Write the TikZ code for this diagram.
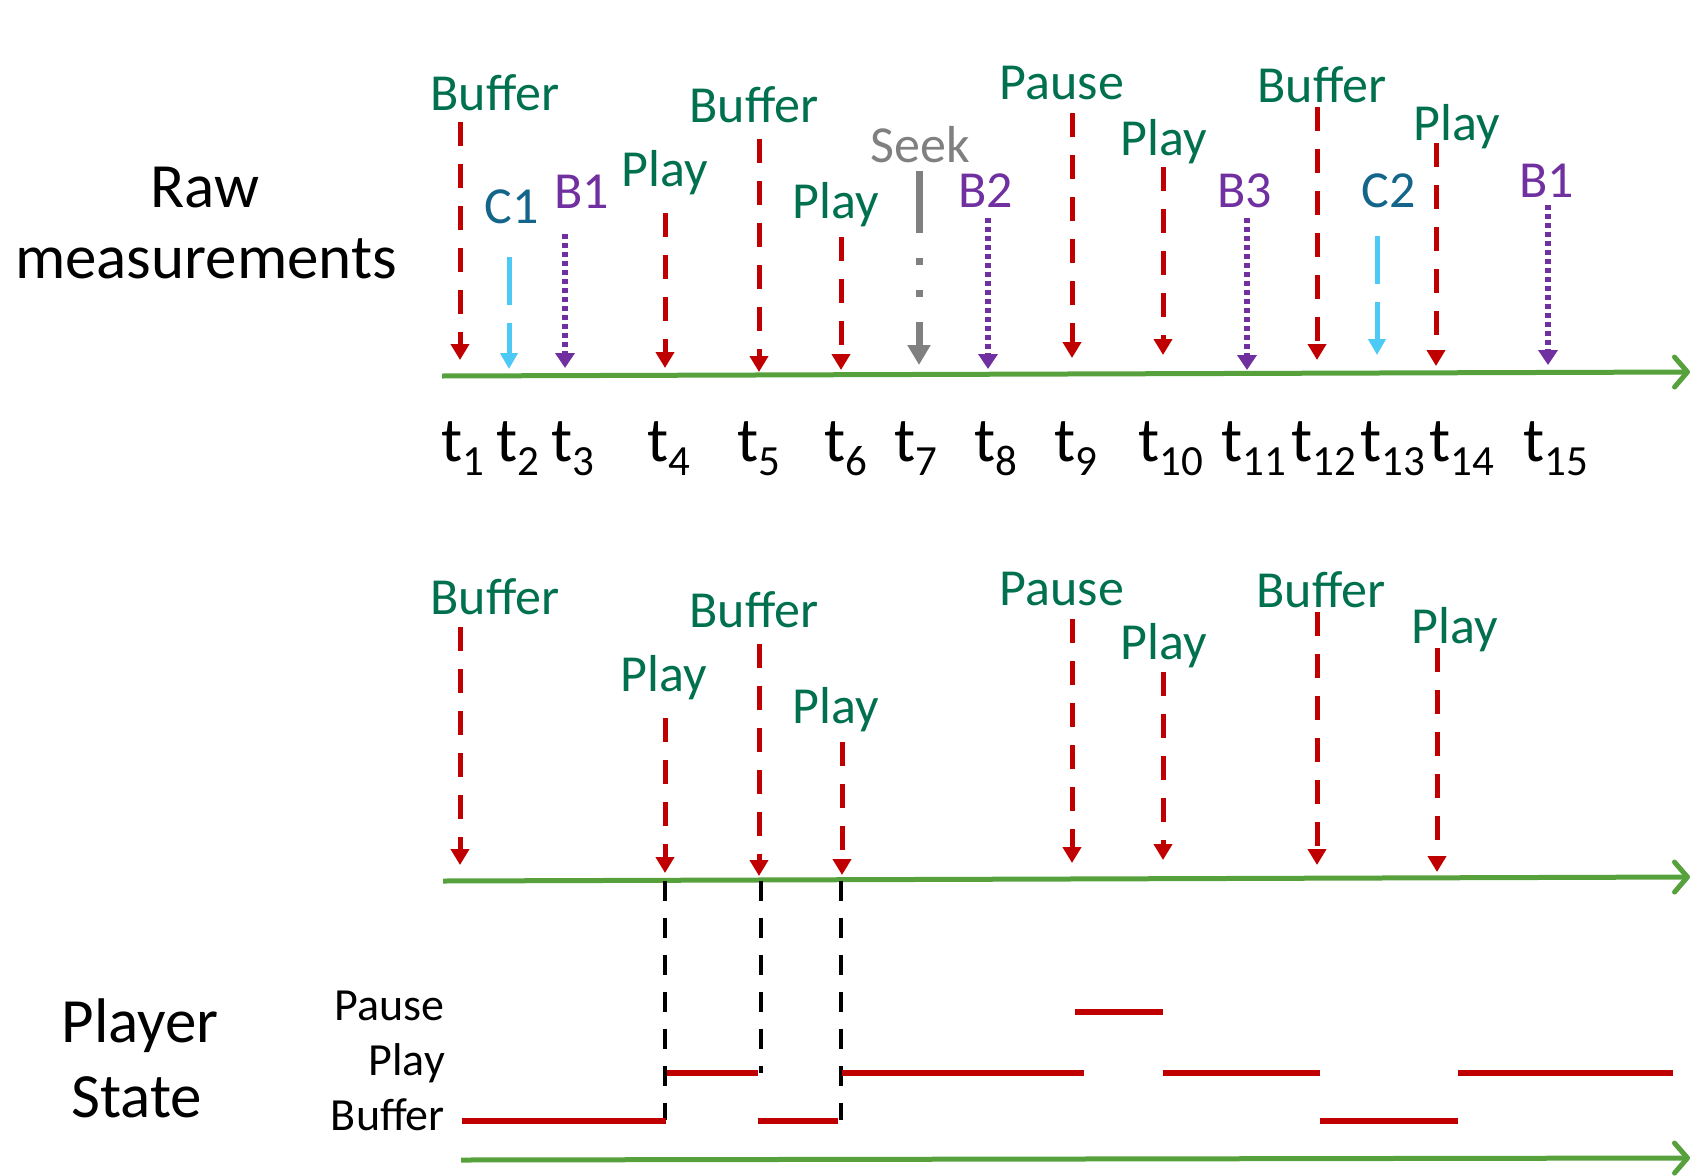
\documentclass[tikz,border=0pt]{standalone}
\usepackage{fontspec}
\setmainfont{Carlito}
\usepackage{tikz}
\usetikzlibrary{arrows.meta}
\definecolor{evred}{HTML}{C00000}
\definecolor{evgreen}{HTML}{00704F}
\definecolor{evteal}{HTML}{13658A}
\definecolor{evcyan}{HTML}{4DC9F6}
\definecolor{evpurple}{HTML}{7030A0}
\definecolor{evgray}{HTML}{808080}
\definecolor{axgreen}{HTML}{56A13C}

% time label t_i with a lowered index
\newcommand{\tlab}[1]{t\raisebox{-14pt}{\fontsize{43}{45}\selectfont #1}}

\begin{document}
\begin{tikzpicture}[x=1pt,y=-1pt,
    evtext/.style={font=\fontsize{52}{58}\selectfont, anchor=base, inner sep=0pt},
    bigtext/.style={font=\fontsize{63}{72}\selectfont, anchor=base, inner sep=0pt},
    ticktext/.style={font=\fontsize{63}{70}\selectfont, anchor=base west, inner sep=0pt},
    statetext/.style={font=\fontsize{46}{50}\selectfont, anchor=base east, inner sep=0pt},
    axis/.style={draw=axgreen, line width=5pt, -{Straight Barb[length=13pt,width=30pt,round]}},
    redev/.style={draw=evred, line width=5pt, dash pattern=on 24pt off 18pt, -{Triangle[width=18pt,length=16pt]}},
    cyanev/.style={draw=evcyan, line width=5pt, dash pattern=on 48pt off 18pt on 200pt, -{Triangle[width=17pt,length=16pt]}},
    purev/.style={draw=evpurple, line width=6pt, dash pattern=on 5pt off 4pt, -{Triangle[width=19pt,length=15pt]}},
    seekev/.style={draw=evgray, line width=7pt, dash pattern=on 62pt off 25pt on 7pt off 25pt on 7pt off 25pt on 200pt, -{Triangle[width=22pt,length=20pt]}},
    guide/.style={draw=black, line width=4pt, dash pattern=on 20pt off 17pt},
    level/.style={draw=evred, line width=6pt}]
  \useasboundingbox (0,0) rectangle (1691,1175);

  % row titles
  \node[bigtext] (raw1) at (205,207) {Raw};
  \node[bigtext] (raw2) at (206,278) {measurements};
  \node[bigtext] (ps1) at (140,1042) {Player};
  \node[bigtext] (ps2) at (137,1117) {State};

  % raw measurement axis
  \coordinate (topL) at (442,376);
  \coordinate (topR) at (1690,372);
  \draw[axis] (topL) -- (topR);
  \foreach \n/\x/\ya/\yb/\ev/\tc/\lab/\lx/\ly in {
      1/460/122/360/redev/evgreen/Buffer/495/110,
      2/509/257/369/cyanev/evteal/C1/512/223,
      3/565/234/368/purev/evpurple/B1/582/208,
      4/665/213/368/redev/evgreen/Play/665/186,
      5/759/139/372/redev/evgreen/Buffer/754/122,
      6/841/237/370/redev/evgreen/Play/836/218,
      7/919/171/365/seekev/evgray/Seek/920/162,
      8/988/218/369/purev/evpurple/B2/986/207,
      9/1072/113/358/redev/evgreen/Pause/1062/99,
      10/1163/167/355/redev/evgreen/Play/1164/155,
      11/1247/218/370/purev/evpurple/B3/1245/207,
      12/1317/107/360/redev/evgreen/Buffer/1322/102,
      13/1377/236/355/cyanev/evteal/C2/1389/207,
      14/1436/143/366/redev/evgreen/Play/1457/140,
      15/1548/205/365/purev/evpurple/B1/1547/197} {
    \node[evtext, text=\tc] (lab\n) at (\lx,\ly) {\lab};
    \coordinate (s\n) at (\x,\ya);
    \coordinate (e\n) at (\x,\yb);
    \draw[\ev] (s\n) -- (e\n);
  }

  % time stamps
  \foreach \n/\x in {1/441,2/496,3/551,4/647,5/737,6/824,7/894,8/974,
      9/1054,10/1138,11/1221,12/1291,13/1360,14/1429,15/1523}
    \node[ticktext] (t\n) at (\x,461) {\tlab{\n}};

  % filtered player events
  \coordinate (midL) at (443,881);
  \coordinate (midR) at (1690,877);
  \draw[axis] (midL) -- (midR);
  \foreach \n/\x/\ya/\yb/\lab/\lx/\ly in {
      1/460/627/865/Buffer/495/614,
      4/665/718/873/Play/664/691,
      5/759/644/876/Buffer/754/627,
      6/842/742/875/Play/836/723,
      9/1072/619/863/Pause/1062/605,
      10/1163/672/860/Play/1164/659,
      12/1317/612/865/Buffer/1321/607,
      14/1437/648/872/Play/1455/643} {
    \node[evtext, text=evgreen] (mlab\n) at (\lx,\ly) {\lab};
    \coordinate (ms\n) at (\x,\ya);
    \coordinate (me\n) at (\x,\yb);
    \draw[redev] (ms\n) -- (me\n);
  }

  % state levels
  \node[statetext] (lvPause) at (445,1020) {Pause};
  \node[statetext] (lvPlay) at (445,1075) {Play};
  \node[statetext] (lvBuffer) at (445,1130) {Buffer};

  \coordinate (g1a) at (665,881);  \coordinate (g1b) at (665,1120);
  \coordinate (g2a) at (761,881);  \coordinate (g2b) at (761,1073);
  \coordinate (g3a) at (841,881);  \coordinate (g3b) at (841,1120);
  \draw[guide] (g1a) -- (g1b);
  \draw[guide] (g2a) -- (g2b);
  \draw[guide] (g3a) -- (g3b);

  \foreach \xa/\xb in {462/666, 758/838, 1320/1458}
    \draw[level] (\xa,1121) -- (\xb,1121);
  \foreach \xa/\xb in {667/758, 842/1084, 1163/1320, 1458/1673}
    \draw[level] (\xa,1073) -- (\xb,1073);
  \draw[level] (1075,1012) -- (1163,1012);

  % state time axis
  \coordinate (botL) at (461,1160);
  \coordinate (botR) at (1690,1158);
  \draw[axis] (botL) -- (botR);
\end{tikzpicture}
\end{document}
